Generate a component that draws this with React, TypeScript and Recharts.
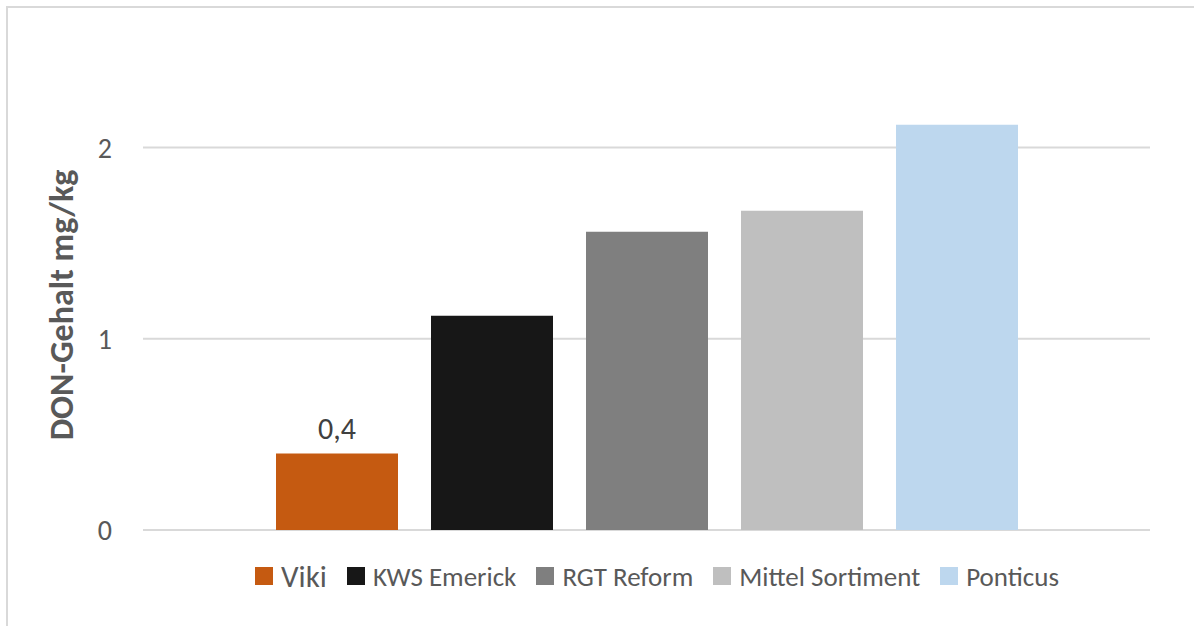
import React from 'react';
import { BarChart, Bar, XAxis, YAxis, CartesianGrid, LabelList } from 'recharts';

// one group, five varieties
const categories = ['DON'];
const seriesNames = ['Viki', 'KWS Emerick', 'RGT Reform', 'Mittel Sortiment', 'Ponticus'];
const seriesValues = [0.4, 1.12, 1.56, 1.67, 2.12];
const yTicks = [0, 1, 2];
const yLabel = 'DON-Gehalt mg/kg';

const colors = ['#C55A11', '#171717', '#7F7F7F', '#BFBFBF', '#BDD7EE'];
const FONT = 'Carlito, Lato, "Open Sans", sans-serif';

const data = categories.map((c) => {
  const row: Record<string, string | number> = { name: c };
  seriesNames.forEach((s, i) => {
    row[s] = seriesValues[i];
  });
  return row;
});

const LegendBox = () => (
  <div
    style={{
      position: 'absolute',
      left: 255,
      top: 561,
      height: 30,
      display: 'flex',
      alignItems: 'center',
      fontFamily: FONT,
      color: '#595959',
      whiteSpace: 'nowrap',
    }}
  >
    {seriesNames.map((s, i) => (
      <div key={s} style={{ display: 'flex', alignItems: 'center', marginRight: 20 }}>
        <span style={{ width: 18, height: 18, background: colors[i], display: 'inline-block', marginRight: 8 }} />
        <span style={{ fontSize: i === 0 ? 31 : 27, lineHeight: 1 }}>{s}</span>
      </div>
    ))}
  </div>
);

const YTitle = (props: any) => {
  const vb = props.viewBox || { x: 0, y: 0, width: 0, height: 0 };
  const cx = 61;
  const cy = vb.y + vb.height / 2 + 14;
  return (
    <text
      x={cx}
      y={cy}
      transform={`rotate(-90, ${cx}, ${cy})`}
      textAnchor="middle"
      dominantBaseline="central"
      fontFamily={FONT}
      fontWeight="bold"
      fontSize={34}
      fill="#595959"
    >
      {yLabel}
    </text>
  );
};

export default function App() {
  return (
    <div style={{ position: 'relative', width: 1194, height: 626, overflow: 'hidden', background: '#fff' }}>
      <style>{'body{margin:0;overflow:hidden}'}</style>
      <div
        style={{
          position: 'absolute',
          left: 6,
          top: 6,
          width: 1220,
          height: 660,
          border: '2px solid #D9D9D9',
        }}
      />
      <div style={{ position: 'absolute', left: 0, top: 0 }}>
        <BarChart
          width={1194}
          height={626}
          data={data}
          margin={{ top: 52, right: 44, bottom: 96, left: 0 }}
          barCategoryGap={133}
          barGap={33}
        >
          <CartesianGrid vertical={false} horizontalValues={yTicks} stroke="#D9D9D9" strokeWidth={2} />
          <XAxis dataKey="name" hide />
          <YAxis
            width={143}
            domain={[0, 2.5]}
            ticks={yTicks}
            axisLine={false}
            tickLine={false}
            tickMargin={25}
            tick={{ fill: '#595959', fontSize: 28, fontFamily: FONT }}
            label={<YTitle />}
          />
          {seriesNames.map((s, i) => (
            <Bar key={s} dataKey={s} fill={colors[i]} isAnimationActive={false}>
              {i === 0 && (
                <LabelList
                  dataKey={s}
                  position="top"
                  offset={15}
                  formatter={(v: any) => String(v).replace('.', ',')}
                  style={{ fill: '#404040', fontSize: 30, fontFamily: FONT }}
                />
              )}
            </Bar>
          ))}
        </BarChart>
      </div>
      <LegendBox />
    </div>
  );
}
